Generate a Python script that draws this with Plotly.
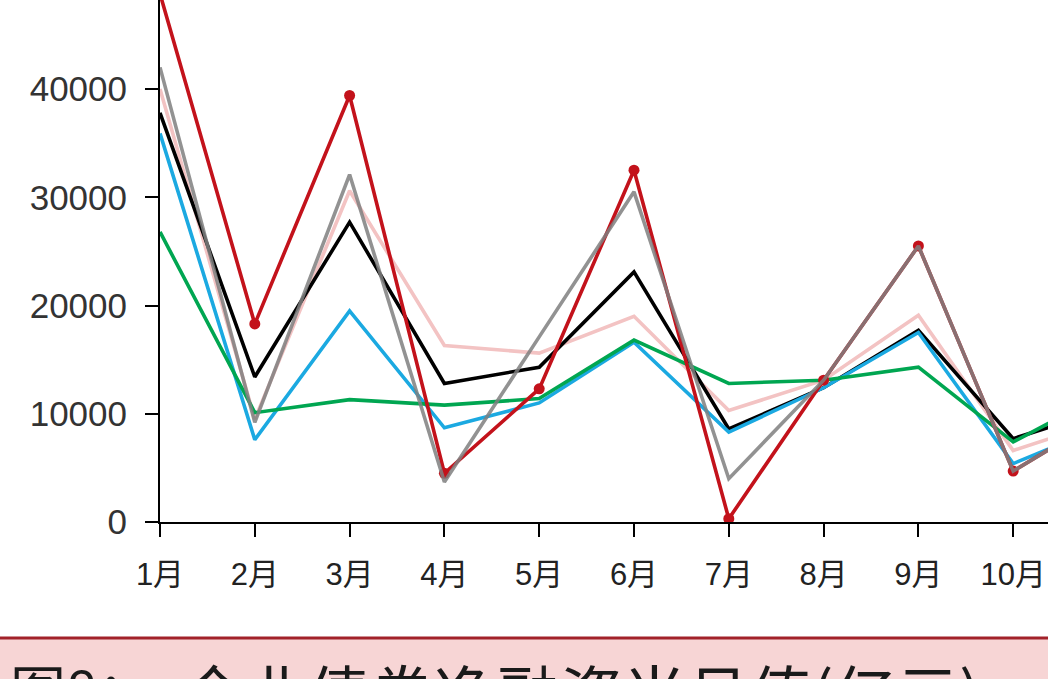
import plotly.graph_objects as go

# ---- data ----
months = ["1月", "2月", "3月", "4月", "5月", "6月", "7月", "8月", "9月", "10月", "11月"]
x_idx = list(range(len(months)))

series_red = [48800, 18300, 39400, 4500, 12300, 32500, 300, 13100, 25500, 4700, 10000]
series_gray = [42000, 9200, 32100, 3700, 17100, 30500, 4000, 13100, 25500, 4700, 10000]
series_black = [37800, 13400, 27700, 12800, 14300, 23100, 8600, 12400, 17700, 7700, 10500]
series_blue = [35900, 7600, 19500, 8700, 11000, 16600, 8300, 12400, 17500, 5400, 9000]
series_green = [26800, 10100, 11300, 10800, 11400, 16800, 12800, 13100, 14300, 7400, 12000]
series_pink = [40000, 9500, 30600, 16300, 15600, 19000, 10300, 13100, 19100, 6600, 9500]

y_ticks = [0, 10000, 20000, 30000, 40000]
x_tick_labels = months[:10]

title_prefix = "图8："
title_text = "企业债券净融资当月值(亿元)"

W, H = 1048, 679
L, B = 160, 157
plot_h = H - B
plot_w = W - L

fig = go.Figure()

def add_line(y, color, width=3.6, markers=False, opacity=1.0):
    fig.add_trace(go.Scatter(
        x=x_idx, y=y, mode="lines+markers" if markers else "lines",
        line=dict(color=color, width=width),
        marker=dict(size=11, color=color) if markers else None,
        opacity=opacity, showlegend=False, hoverinfo="skip",
    ))

add_line(series_pink, "#f3c3c3")
add_line(series_black, "#000000")
add_line(series_blue, "#1ba9e1")
add_line(series_green, "#00a651")
add_line(series_red, "#c3121b", markers=True)
add_line(series_gray, "#808080", opacity=0.85)

fig.update_layout(
    width=W, height=H,
    margin=dict(l=L, r=0, t=0, b=B, pad=0),
    paper_bgcolor="white", plot_bgcolor="white",
    font=dict(family="Liberation Sans, Arial, Noto Sans CJK SC", size=33, color="#333333"),
    xaxis=dict(
        range=[0, plot_w / 94.8], tickvals=list(range(len(x_tick_labels))), ticktext=x_tick_labels,
        showgrid=False, zeroline=False, showline=True, linecolor="black", linewidth=2,
        ticks="outside", ticklen=13, tickwidth=2, tickcolor="black",
        tickfont=dict(size=31, family="Liberation Sans, Noto Sans CJK SC", color="#222222"),
        ticklabelstandoff=11,
    ),
    yaxis=dict(
        range=[0, plot_h / 0.010825], tickvals=y_ticks, ticktext=[str(v) for v in y_ticks],
        showgrid=False, zeroline=False, showline=True, linecolor="black", linewidth=2,
        ticks="outside", ticklen=13, tickwidth=2, tickcolor="black",
        tickfont=dict(size=35, family="Liberation Sans", color="#333333"),
        ticklabelstandoff=11,
    ),
)

def py(pix):
    return (plot_h - pix) / plot_h

def px(pix):
    return (pix - L) / plot_w

# pink caption banner at bottom
fig.add_shape(type="rect", xref="paper", yref="paper",
              x0=px(0), x1=1, y0=py(H + 5), y1=py(638),
              fillcolor="#f7d5d5", line=dict(width=0), layer="below")
fig.add_shape(type="line", xref="paper", yref="paper",
              x0=px(0), x1=1, y0=py(638), y1=py(638),
              line=dict(color="#a2222a", width=3))

fig.add_annotation(xref="paper", yref="paper", x=px(8), y=py(645),
                   xanchor="left", yanchor="top", showarrow=False,
                   text=title_prefix,
                   font=dict(size=56, family="Noto Sans CJK SC", color="#1a1a1a"))
fig.add_annotation(xref="paper", yref="paper", x=px(180), y=py(643),
                   xanchor="left", yanchor="top", showarrow=False,
                   text=title_text,
                   font=dict(size=63, family="Noto Sans CJK SC", color="#1a1a1a"))

fig.write_html("out.html")
